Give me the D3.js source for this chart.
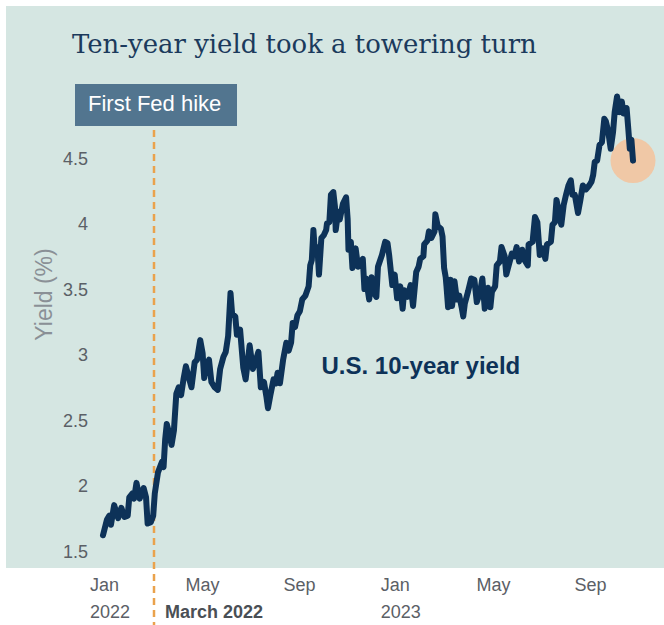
<!DOCTYPE html>
<html>
<head>
<meta charset="utf-8">
<script src="https://cdn.jsdelivr.net/npm/d3@7"></script>
<style>
  html, body { margin: 0; padding: 0; background: #ffffff; }
  svg { display: block; }
</style>
</head>
<body>
<svg id="chart" width="664" height="625"></svg>
<script>
// U.S. 10-year Treasury yield, Jan 2022 – Oct 2023 (percent)
const dates = [
  "2022-01-03","2022-01-08","2022-01-11","2022-01-13","2022-01-17","2022-01-22","2022-01-26","2022-01-30",
  "2022-02-03","2022-02-05","2022-02-09","2022-02-11","2022-02-14","2022-02-18","2022-02-23","2022-02-26",
  "2022-02-28","2022-03-04","2022-03-07","2022-03-09","2022-03-13","2022-03-18","2022-03-20","2022-03-22",
  "2022-03-24","2022-03-27","2022-03-30","2022-04-02","2022-04-05","2022-04-08","2022-04-11","2022-04-14",
  "2022-04-17","2022-04-20","2022-04-24","2022-04-28","2022-05-01","2022-05-05","2022-05-08","2022-05-10",
  "2022-05-12","2022-05-16","2022-05-19","2022-05-23","2022-05-27","2022-05-30","2022-06-03","2022-06-06",
  "2022-06-09","2022-06-12","2022-06-14","2022-06-18","2022-06-20","2022-06-24","2022-06-28","2022-07-01",
  "2022-07-06","2022-07-10","2022-07-13","2022-07-17","2022-07-20","2022-07-24","2022-07-27","2022-07-29",
  "2022-08-01","2022-08-05","2022-08-08","2022-08-10","2022-08-13","2022-08-17","2022-08-21","2022-08-24",
  "2022-08-27","2022-08-29","2022-09-01","2022-09-04","2022-09-07","2022-09-10","2022-09-14","2022-09-18",
  "2022-09-20","2022-09-22","2022-09-24","2022-09-26","2022-09-29","2022-10-01","2022-10-04","2022-10-07",
  "2022-10-10","2022-10-11","2022-10-14","2022-10-16","2022-10-19","2022-10-21","2022-10-22","2022-10-25",
  "2022-10-27","2022-10-31","2022-11-04","2022-11-06","2022-11-07","2022-11-10","2022-11-12","2022-11-16",
  "2022-11-19","2022-11-25","2022-11-27","2022-11-29","2022-12-03","2022-12-06","2022-12-09","2022-12-12",
  "2022-12-14","2022-12-19","2022-12-23","2022-12-26","2022-12-28","2023-01-01","2023-01-04","2023-01-07",
  "2023-01-11","2023-01-14","2023-01-16","2023-01-20","2023-01-24","2023-01-27","2023-01-31","2023-02-03",
  "2023-02-05","2023-02-09","2023-02-10","2023-02-14","2023-02-16","2023-02-19","2023-02-23","2023-02-24",
  "2023-02-27","2023-03-03","2023-03-05","2023-03-07","2023-03-09","2023-03-10","2023-03-12","2023-03-15",
  "2023-03-17","2023-03-20","2023-03-23","2023-03-26","2023-03-29","2023-03-31","2023-04-02","2023-04-06",
  "2023-04-10","2023-04-14","2023-04-17","2023-04-21","2023-04-24","2023-04-27","2023-05-01","2023-05-04",
  "2023-05-06","2023-05-10","2023-05-12","2023-05-16","2023-05-18","2023-05-22","2023-05-24","2023-05-27",
  "2023-05-31","2023-06-03","2023-06-06","2023-06-09","2023-06-13","2023-06-16","2023-06-20","2023-06-21",
  "2023-06-26","2023-06-29","2023-07-02","2023-07-05","2023-07-09","2023-07-12","2023-07-14","2023-07-19",
  "2023-07-21","2023-07-24","2023-07-26","2023-07-29","2023-08-01","2023-08-04","2023-08-07","2023-08-10",
  "2023-08-13","2023-08-15","2023-08-18","2023-08-22","2023-08-25","2023-08-28","2023-09-01","2023-09-05",
  "2023-09-08","2023-09-10","2023-09-12","2023-09-15","2023-09-18","2023-09-21","2023-09-24","2023-09-26",
  "2023-09-29","2023-10-02","2023-10-05","2023-10-07","2023-10-10","2023-10-13","2023-10-16","2023-10-18",
  "2023-10-20","2023-10-22","2023-10-24","2023-10-26","2023-10-28","2023-10-30"
];
const yields = [
  1.62,1.74,1.77,1.70,1.85,1.75,1.83,1.76,
  1.77,1.91,1.94,1.90,2.02,1.90,1.98,1.91,
  1.71,1.72,1.77,1.94,2.10,2.18,2.14,2.35,
  2.47,2.40,2.31,2.42,2.70,2.75,2.69,2.81,
  2.91,2.84,2.75,2.94,2.96,3.11,3.01,2.82,
  2.91,2.96,2.79,2.75,2.73,2.89,2.98,3.02,
  3.14,3.47,3.31,3.29,3.15,3.19,2.90,2.81,
  3.07,2.89,2.94,3.02,2.75,2.79,2.68,2.59,
  2.69,2.81,2.78,2.86,2.78,2.96,3.09,3.03,
  3.09,3.24,3.21,3.30,3.33,3.42,3.45,3.52,
  3.68,3.72,3.95,3.77,3.82,3.61,3.89,3.91,
  3.95,4.00,4.01,4.22,4.24,4.13,3.95,4.09,
  4.03,4.15,4.20,4.03,3.80,3.86,3.66,3.81,
  3.67,3.73,3.50,3.58,3.42,3.59,3.47,3.44,
  3.67,3.76,3.86,3.85,3.76,3.53,3.61,3.43,
  3.52,3.35,3.49,3.44,3.53,3.37,3.63,3.67,
  3.73,3.75,3.84,3.87,3.94,3.89,3.94,4.07,
  3.98,3.96,3.90,3.66,3.59,3.52,3.36,3.57,
  3.37,3.56,3.42,3.45,3.36,3.29,3.39,3.48,
  3.58,3.57,3.40,3.47,3.58,3.35,3.51,3.36,
  3.48,3.52,3.68,3.71,3.82,3.75,3.61,3.68,
  3.77,3.75,3.82,3.71,3.80,3.72,3.68,3.84,
  3.86,4.05,4.01,3.76,3.81,3.73,3.84,3.86,
  3.99,4.01,4.18,4.09,3.99,4.14,4.22,4.29,
  4.33,4.22,4.22,4.08,4.18,4.29,4.26,4.29,
  4.32,4.37,4.47,4.48,4.60,4.62,4.80,4.78,
  4.70,4.57,4.70,4.85,4.97,4.85,4.93,4.84,
  4.87,4.88,4.73,4.57,4.64,4.48
];

const yTicks = [1.5, 2, 2.5, 3, 3.5, 4, 4.5];
const xTickDates = ["2022-01-01","2022-05-01","2022-09-01","2023-01-01","2023-05-01","2023-09-01"];
const xTickMonths = ["Jan","May","Sep","Jan","May","Sep"];
const xTickYears = ["2022","","","2023","",""];

const hikeDate = "2022-03-08";
const hikeLabel = "First Fed hike";
const hikeAxisLabel = "March 2022";
const titleText = "Ten-year yield took a towering turn";
const seriesLabel = "U.S. 10-year yield";
const yAxisTitle = "Yield (%)";

const parse = d3.utcParse("%Y-%m-%d");
const series = dates.map((d, i) => ({ date: parse(d), value: yields[i] }));

const svg = d3.select("#chart");
const W = 664, H = 625;

const x = d3.scaleUtc()
  .domain([parse("2022-01-01"), parse("2023-11-01")])
  .range([101.4, 101.4 + 669 * 0.797]);
const y = d3.scaleLinear().domain([1.5, 4.5]).range([551, 158]);

// panel background
svg.append("rect")
  .attr("x", 6).attr("y", 6)
  .attr("width", W - 6).attr("height", 562)
  .attr("fill", "#d5e6e2");

// title, sized to span its line
const title = svg.append("text")
  .attr("x", 72).attr("y", 53)
  .attr("font-family", "'DejaVu Serif', 'Liberation Serif', serif")
  .attr("font-size", 26)
  .attr("fill", "#1b3a5c")
  .text(titleText);
const tw = title.node().getComputedTextLength();
title.attr("font-size", 26 * 465 / tw);

// y axis labels
const yAxis = d3.axisLeft(y).tickValues(yTicks).tickSize(0).tickPadding(0)
  .tickFormat(d3.format("~g"));
const gy = svg.append("g").attr("transform", "translate(88,0)").call(yAxis);
gy.select(".domain").remove();
gy.selectAll("text")
  .attr("font-family", "'Liberation Sans', Arial, sans-serif")
  .attr("font-size", 18)
  .attr("fill", "#5b6066")
  .attr("dy", "0.34em");

// y axis title
svg.append("text")
  .attr("transform", "translate(51.5,294.5) rotate(-90)")
  .attr("text-anchor", "middle")
  .attr("font-family", "'Liberation Sans', Arial, sans-serif")
  .attr("font-size", 23)
  .attr("fill", "#8a9096")
  .text(yAxisTitle);

// x axis labels (month row and year row)
const xAxis = d3.axisBottom(x)
  .tickValues(xTickDates.map(parse))
  .tickSize(0).tickPadding(0)
  .tickFormat((d, i) => xTickMonths[i]);
const gx = svg.append("g").call(xAxis);
gx.select(".domain").remove();
gx.selectAll(".tick text")
  .attr("text-anchor", "start")
  .attr("x", -12)
  .attr("y", 590.5)
  .attr("dy", 0)
  .attr("font-family", "'Liberation Sans', Arial, sans-serif")
  .attr("font-size", 18)
  .attr("fill", "#5b6066");
gx.selectAll(".tick").append("text")
  .attr("text-anchor", "start")
  .attr("x", -12)
  .attr("y", 618)
  .attr("font-family", "'Liberation Sans', Arial, sans-serif")
  .attr("font-size", 18)
  .attr("fill", "#5b6066")
  .text((d, i) => xTickYears[i]);

// first hike marker
const hx = x(parse(hikeDate));
svg.append("line")
  .attr("x1", hx).attr("x2", hx)
  .attr("y1", 130).attr("y2", H)
  .attr("stroke", "#eaa24c")
  .attr("stroke-width", 2.5)
  .attr("stroke-dasharray", "7,5");

svg.append("rect")
  .attr("x", hx - 79).attr("y", 84)
  .attr("width", 162).attr("height", 42)
  .attr("fill", "#52758f");
svg.append("text")
  .attr("x", hx - 66).attr("y", 110.5)
  .attr("font-family", "'Liberation Sans', Arial, sans-serif")
  .attr("font-size", 22)
  .attr("fill", "#ffffff")
  .text(hikeLabel);

svg.append("text")
  .attr("x", hx + 11).attr("y", 618)
  .attr("font-family", "'Liberation Sans', Arial, sans-serif")
  .attr("font-size", 18)
  .attr("font-weight", "bold")
  .attr("fill", "#4a4f55")
  .text(hikeAxisLabel);

// highlight on latest reading
const last = series[series.length - 1];
svg.append("circle")
  .attr("cx", x(last.date)).attr("cy", y(last.value))
  .attr("r", 22.5)
  .attr("fill", "#f0c8a6");

// yield line
const line = d3.line().x(d => x(d.date)).y(d => y(d.value));
svg.append("path")
  .datum(series)
  .attr("d", line)
  .attr("fill", "none")
  .attr("stroke", "#0d3258")
  .attr("stroke-width", 6)
  .attr("stroke-linejoin", "round")
  .attr("stroke-linecap", "round");

// series label
svg.append("text")
  .attr("x", 321.5).attr("y", 373.5)
  .attr("font-family", "'Liberation Sans', Arial, sans-serif")
  .attr("font-size", 24)
  .attr("font-weight", "bold")
  .attr("fill", "#0d3258")
  .text(seriesLabel);
</script>
</body>
</html>
